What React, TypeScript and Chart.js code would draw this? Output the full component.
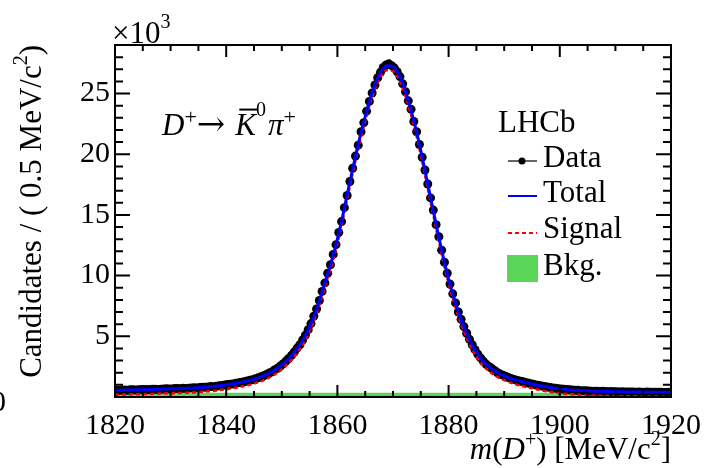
import React, { useEffect, useRef } from "react";
import { Chart, registerables } from "chart.js";

Chart.register(...registerables);

// Histogram binning (MeV/c^2)
const BIN_START = 1820;
const BIN_WIDTH = 0.5;
// Data: candidates per 0.5 MeV bin, in units of 10^3
const dataCounts = [
  0.56, 0.54, 0.57, 0.58, 0.56, 0.59, 0.60, 0.58, 0.59, 0.61,
  0.62, 0.60, 0.61, 0.63, 0.64, 0.62, 0.63, 0.66, 0.67, 0.65,
  0.66, 0.69, 0.70, 0.68, 0.72, 0.71, 0.73, 0.75, 0.76, 0.75,
  0.78, 0.80, 0.81, 0.83, 0.86, 0.85, 0.89, 0.92, 0.95, 0.98,
  1.03, 1.05, 1.08, 1.13, 1.18, 1.21, 1.26, 1.32, 1.37, 1.43,
  1.50, 1.58, 1.66, 1.75, 1.85, 1.98, 2.08, 2.25, 2.37, 2.55,
  2.74, 2.96, 3.18, 3.43, 3.71, 4.03, 4.30, 4.70, 5.10, 5.55,
  6.05, 6.65, 7.25, 7.95, 8.70, 9.40, 10.20, 10.90, 11.75, 12.55,
  13.55, 14.45, 15.60, 16.60, 17.75, 18.85, 19.85, 20.75, 21.85, 22.60,
  23.55, 24.35, 25.05, 25.70, 26.30, 26.75, 27.15, 27.35, 27.45, 27.30,
  27.10, 26.80, 26.40, 25.80, 25.15, 24.40, 23.70, 22.70, 21.85, 20.80,
  19.75, 18.70, 17.55, 16.40, 15.40, 14.20, 13.20, 12.10, 11.10, 10.20,
  9.30, 8.50, 7.75, 7.00, 6.40, 5.80, 5.25, 4.75, 4.30, 3.90,
  3.52, 3.22, 2.95, 2.70, 2.52, 2.36, 2.18, 2.02, 1.90, 1.80,
  1.71, 1.60, 1.53, 1.45, 1.38, 1.32, 1.27, 1.21, 1.15, 1.10,
  1.05, 0.99, 0.95, 0.90, 0.86, 0.82, 0.79, 0.74, 0.72, 0.68,
  0.66, 0.63, 0.61, 0.59, 0.57, 0.56, 0.55, 0.52, 0.52, 0.51,
  0.49, 0.48, 0.48, 0.47, 0.46, 0.47, 0.46, 0.44, 0.45, 0.44,
  0.44, 0.42, 0.43, 0.42, 0.42, 0.41, 0.42, 0.40, 0.41, 0.40,
  0.40, 0.41, 0.40, 0.39, 0.39, 0.40, 0.39, 0.38, 0.38, 0.39,
];

// Fit curves sampled every 1 MeV from 1820 to 1920 (units of 10^3)
const FIT_START = 1820;
const FIT_STEP = 1;
const totalFit = [
  0.55, 0.56, 0.57, 0.58, 0.59, 0.60, 0.61, 0.62, 0.64, 0.65,
  0.67, 0.68, 0.70, 0.72, 0.74, 0.77, 0.80, 0.84, 0.88, 0.93,
  1.00, 1.07, 1.15, 1.24, 1.34, 1.46, 1.61, 1.80, 2.03, 2.30,
  2.65, 3.05, 3.55, 4.15, 4.85, 5.80, 6.90, 8.30, 9.80, 11.30,
  13.00, 15.00, 17.20, 19.30, 21.30, 23.10, 24.70, 26.00, 26.90, 27.30,
  27.20, 26.60, 25.50, 24.00, 22.30, 20.30, 18.10, 15.90, 13.70, 11.60,
  9.70, 8.10, 6.70, 5.50, 4.50, 3.70, 3.05, 2.60, 2.25, 1.96,
  1.75, 1.56, 1.41, 1.29, 1.18, 1.07, 0.97, 0.88, 0.80, 0.73,
  0.67, 0.62, 0.58, 0.55, 0.52, 0.50, 0.48, 0.47, 0.46, 0.45,
  0.44, 0.43, 0.42, 0.415, 0.41, 0.405, 0.40, 0.395, 0.39, 0.385,
  0.38,
];
const signalFit = [
  0.19, 0.20, 0.21, 0.22, 0.23, 0.24, 0.25, 0.26, 0.28, 0.29,
  0.31, 0.32, 0.34, 0.36, 0.38, 0.41, 0.44, 0.48, 0.52, 0.57,
  0.64, 0.71, 0.79, 0.88, 0.98, 1.10, 1.25, 1.44, 1.67, 1.94,
  2.29, 2.69, 3.19, 3.79, 4.49, 5.44, 6.54, 7.94, 9.44, 10.94,
  12.64, 14.64, 16.84, 18.94, 20.94, 22.74, 24.34, 25.64, 26.54, 26.94,
  26.84, 26.24, 25.14, 23.64, 21.94, 19.94, 17.74, 15.54, 13.34, 11.24,
  9.34, 7.74, 6.34, 5.14, 4.14, 3.34, 2.69, 2.24, 1.89, 1.60,
  1.39, 1.20, 1.05, 0.93, 0.82, 0.71, 0.61, 0.52, 0.44, 0.37,
  0.31, 0.26, 0.22, 0.19, 0.16, 0.14, 0.12, 0.11, 0.10, 0.09,
  0.08, 0.07, 0.06, 0.055, 0.05, 0.045, 0.04, 0.035, 0.03, 0.025,
  0.02,
];
const bkgMass = [1820, 1920];
const bkgLevel = [0.36, 0.36];

const X_MIN = 1820;
const X_MAX = 1920;
const Y_MIN = 0;
const Y_MAX = 29;
const X_MAJOR = 20;
const X_MINOR = 5;
const Y_MAJOR = 5;
const Y_MINOR = 1;

const SERIF = "'Liberation Serif', 'Times New Roman', serif";

type Run = { t: string; size?: number; italic?: boolean; dy?: number; over?: boolean; family?: string; dx?: number };

function runFont(r: Run, base: number) {
  return `${r.italic ? "italic " : ""}${r.size ?? base}px ${r.family ?? SERIF}`;
}

function drawRuns(ctx: CanvasRenderingContext2D, x: number, y: number, runs: Run[], base: number, align: "left" | "right") {
  let total = 0;
  for (const r of runs) {
    ctx.font = runFont(r, base);
    total += ctx.measureText(r.t).width + (r.dx ?? 0);
  }
  let cx = align === "left" ? x : x - total;
  ctx.textAlign = "left";
  ctx.textBaseline = "alphabetic";
  for (const r of runs) {
    ctx.font = runFont(r, base);
    const w = ctx.measureText(r.t).width;
    ctx.fillText(r.t, cx, y + (r.dy ?? 0));
    if (r.over) {
      ctx.save();
      ctx.lineWidth = 2;
      ctx.beginPath();
      ctx.moveTo(cx + 4, y - base * 0.82);
      ctx.lineTo(cx + w + 1, y - base * 0.82);
      ctx.stroke();
      ctx.restore();
    }
    cx += w + (r.dx ?? 0);
  }
}

const decorPlugin = {
  id: "rootDecor",
  afterDatasetsDraw(chart: any) {
    const ctx: CanvasRenderingContext2D = chart.ctx;
    const { left, right, top, bottom } = chart.chartArea;
    const xs = chart.scales.x;
    const ys = chart.scales.y;
    ctx.save();
    ctx.strokeStyle = "#000";
    ctx.fillStyle = "#000";
    ctx.lineWidth = 2;
    ctx.strokeRect(left, top, right - left, bottom - top);
    for (let v = X_MIN; v <= X_MAX + 1e-9; v += X_MINOR) {
      const px = xs.getPixelForValue(v);
      const len = Math.abs((v - X_MIN) % X_MAJOR) < 1e-9 ? 12 : 6;
      ctx.beginPath();
      ctx.moveTo(px, bottom);
      ctx.lineTo(px, bottom - len);
      ctx.moveTo(px, top);
      ctx.lineTo(px, top + len);
      ctx.stroke();
    }
    for (let v = Y_MIN; v <= Y_MAX + 1e-9; v += Y_MINOR) {
      const py = ys.getPixelForValue(v);
      const len = Math.abs(v % Y_MAJOR) < 1e-9 ? 15 : 8;
      ctx.beginPath();
      ctx.moveTo(left, py);
      ctx.lineTo(left + len, py);
      ctx.moveTo(right, py);
      ctx.lineTo(right - len, py);
      ctx.stroke();
    }
    ctx.restore();
  },
  afterDraw(chart: any) {
    const ctx: CanvasRenderingContext2D = chart.ctx;
    const { top, right } = chart.chartArea;
    ctx.save();
    ctx.fillStyle = "#000";
    ctx.strokeStyle = "#000";
    const F = 31;
    drawRuns(ctx, 112, 43, [{ t: "\u00d710" }, { t: "3", size: 20, dy: -15 }], F, "left");
    ctx.font = `30px ${SERIF}`;
    ctx.textAlign = "right";
    ctx.textBaseline = "alphabetic";
    ctx.fillText("0", 6, 411);
    drawRuns(
      ctx,
      right,
      459,
      [
        { t: "m", italic: true },
        { t: "(" },
        { t: "D", italic: true },
        { t: "+", size: 20, dy: -13 },
        { t: ") [MeV/c" },
        { t: "2", size: 20, dy: -14 },
        { t: "]" },
      ],
      F,
      "right"
    );
    ctx.save();
    ctx.translate(41, top);
    ctx.rotate(-Math.PI / 2);
    drawRuns(
      ctx,
      0,
      0,
      [{ t: "Candidates / ( 0.5 MeV/c" }, { t: "2", size: 20, dy: -14 }, { t: ")" }],
      F,
      "right"
    );
    ctx.restore();
    drawRuns(
      ctx,
      162,
      135,
      [
        { t: "D", italic: true },
        { t: "+", size: 22, dy: -11 },
        { t: "\u2192", family: "'DejaVu Serif', serif", size: 34, dx: 10 },
        { t: "K", italic: true, over: true },
        { t: "0", size: 20, dy: -19, dx: 2 },
        { t: "\u03c0", italic: true },
        { t: "+", size: 22, dy: -11 },
      ],
      F,
      "left"
    );
    ctx.font = `${F}px ${SERIF}`;
    ctx.textAlign = "left";
    ctx.fillText("LHCb", 498, 132);
    ctx.fillText("Data", 543, 167);
    ctx.fillText("Total", 543, 202);
    ctx.fillText("Signal", 543, 238);
    ctx.fillText("Bkg.", 543, 275);
    ctx.lineWidth = 1.5;
    ctx.strokeStyle = "#333";
    ctx.beginPath();
    ctx.moveTo(508, 161);
    ctx.lineTo(537, 161);
    ctx.stroke();
    ctx.fillStyle = "#000";
    ctx.beginPath();
    ctx.arc(522, 161, 3.5, 0, Math.PI * 2);
    ctx.fill();
    ctx.strokeStyle = "#0000ff";
    ctx.lineWidth = 2;
    ctx.beginPath();
    ctx.moveTo(508, 196);
    ctx.lineTo(537, 196);
    ctx.stroke();
    ctx.strokeStyle = "#ff0000";
    ctx.setLineDash([4, 3]);
    ctx.beginPath();
    ctx.moveTo(508, 233);
    ctx.lineTo(537, 233);
    ctx.stroke();
    ctx.setLineDash([]);
    ctx.fillStyle = "#59d559";
    ctx.fillRect(507, 255, 31, 27);
    ctx.restore();
  },
};

export default function App() {
  const ref = useRef<HTMLCanvasElement | null>(null);
  useEffect(() => {
    document.body.style.margin = "0";
    const canvas = ref.current;
    if (!canvas) return;
    const dataPts = dataCounts.map((v, i) => ({ x: BIN_START + BIN_WIDTH * (i + 0.5), y: v }));
    const totalPts = totalFit.map((v, i) => ({ x: FIT_START + FIT_STEP * i, y: v }));
    const sigPts = signalFit.map((v, i) => ({ x: FIT_START + FIT_STEP * i, y: v }));
    const bkgPts = bkgLevel.map((v, i) => ({ x: bkgMass[i], y: v }));
    const chart = new Chart(canvas, {
      type: "line",
      data: {
        datasets: [
          {
            label: "Total",
            data: totalPts,
            borderColor: "#0000ff",
            borderWidth: 3,
            pointRadius: 0,
            cubicInterpolationMode: "monotone",
            fill: false,
          },
          {
            label: "Signal",
            data: sigPts,
            borderColor: "#ff0000",
            borderWidth: 2.5,
            borderDash: [4, 3],
            pointRadius: 0,
            cubicInterpolationMode: "monotone",
            fill: false,
          },
          {
            label: "Data",
            data: dataPts,
            showLine: false,
            pointRadius: 4.5,
            pointBackgroundColor: "#000",
            pointBorderColor: "#000",
            pointBorderWidth: 0,
            borderColor: "#000",
          },
          {
            label: "Bkg.",
            data: bkgPts,
            borderWidth: 0,
            borderColor: "rgba(0,0,0,0)",
            backgroundColor: "#59d559",
            pointRadius: 0,
            fill: "origin",
          },
        ] as any,
      },
      options: {
        responsive: false,
        animation: false,
        events: [],
        layout: { padding: { top: 45, right: 34, left: 0, bottom: 0 } },
        plugins: { legend: { display: false }, tooltip: { enabled: false } },
        scales: {
          x: {
            type: "linear",
            min: X_MIN,
            max: X_MAX,
            grid: { display: false, drawTicks: false },
            border: { display: false },
            afterFit: (s: any) => {
              s.height = 71;
            },
            ticks: {
              stepSize: X_MAJOR,
              includeBounds: false,
              color: "#000",
              padding: 11,
              maxRotation: 0,
              font: { family: SERIF, size: 30 },
              callback: (v: any) => String(v),
            },
          },
          y: {
            type: "linear",
            min: Y_MIN,
            max: Y_MAX,
            grid: { display: false, drawTicks: false },
            border: { display: false },
            afterFit: (s: any) => {
              s.width = 115;
            },
            ticks: {
              stepSize: Y_MAJOR,
              includeBounds: false,
              color: "#000",
              padding: 5,
              font: { family: SERIF, size: 30 },
              callback: (v: any) => (v === 0 ? "" : String(v)),
            },
          },
        },
      } as any,
      plugins: [decorPlugin],
    });
    return () => chart.destroy();
  }, []);
  return <canvas ref={ref} width={712} height={468} style={{ display: "block", width: 712, height: 468 }} />;
}
